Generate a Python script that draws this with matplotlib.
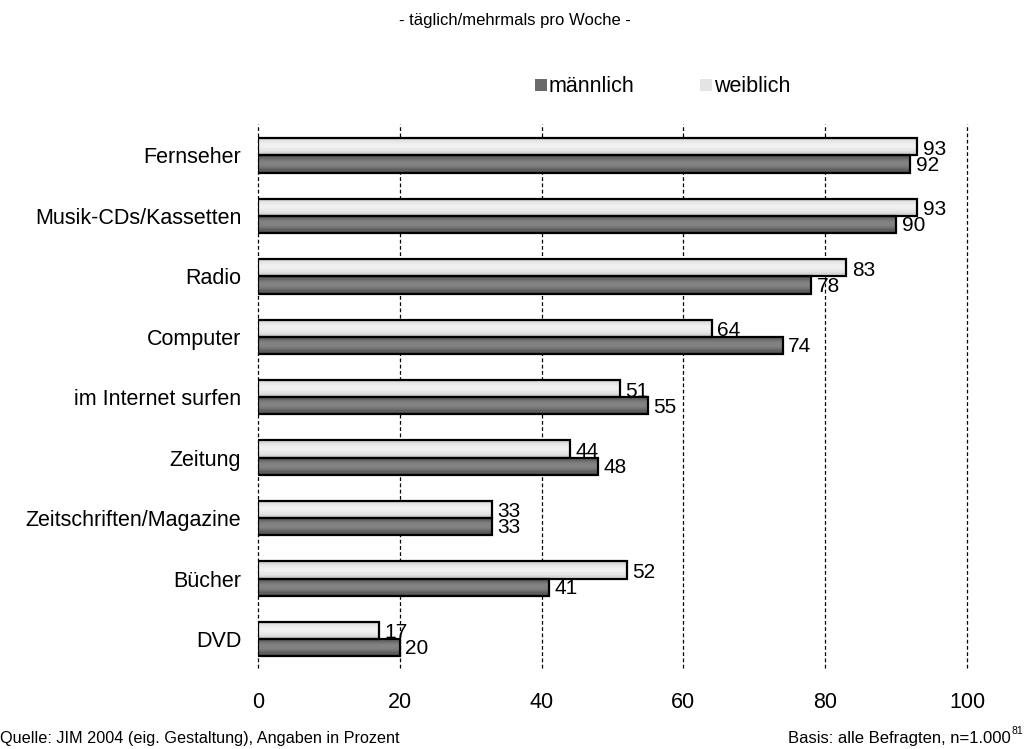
import numpy as np
import matplotlib
matplotlib.use("Agg")
import matplotlib.pyplot as plt
from matplotlib.patches import Rectangle

plt.rcParams['font.family'] = ['Liberation Sans', 'DejaVu Sans']

categories = ["Fernseher", "Musik-CDs/Kassetten", "Radio", "Computer",
              "im Internet surfen", "Zeitung", "Zeitschriften/Magazine",
              "Bücher", "DVD"]
maennlich = [92, 90, 78, 74, 55, 48, 33, 41, 20]
weiblich = [93, 93, 83, 64, 51, 44, 33, 52, 17]
xticks = [0, 20, 40, 60, 80, 100]

title = "- täglich/mehrmals pro Woche -"
source = "Quelle: JIM 2004 (eig. Gestaltung), Angaben in Prozent"
basis = "Basis: alle Befragten, n=1.000"

fig = plt.figure(figsize=(10.31, 7.49), dpi=100)
ax = fig.add_axes([258/1031, 1-668/749, 709/1031, (668-124)/749])

y = np.arange(len(categories))
h = 0.285

dark_prof = np.array([0.30, 0.34, 0.40, 0.45, 0.48, 0.50, 0.51, 0.51, 0.50, 0.48, 0.45, 0.41, 0.37, 0.33, 0.29])
light_prof = np.array([0.80, 0.84, 0.88, 0.91, 0.93, 0.94, 0.94, 0.93, 0.92, 0.90, 0.87, 0.84, 0.81])

def grad_bars(values, offset, prof):
    bars = ax.barh(y + offset, values, height=h, facecolor='none',
                   edgecolor='black', linewidth=1.6, zorder=4)
    for b in bars:
        x0, y0 = b.get_x(), b.get_y()
        w, hh = b.get_width(), b.get_height()
        img = prof.reshape(-1, 1)
        im = ax.imshow(img, cmap='gray', vmin=0, vmax=1, aspect='auto',
                       extent=(x0, x0 + w, y0 + hh, y0), origin='upper',
                       interpolation='nearest', zorder=3)
        im.set_clip_path(b)
    return bars

grad_bars(weiblich, -h/2, light_prof)
grad_bars(maennlich, h/2, dark_prof)

for i in range(len(categories)):
    ax.annotate(str(weiblich[i]), (weiblich[i], y[i] - h/2 + 0.04),
                xytext=(4, 0), textcoords='offset points', va='center',
                ha='left', fontsize=15, zorder=5)
    ax.annotate(str(maennlich[i]), (maennlich[i], y[i] + h/2 + 0.02),
                xytext=(4, 0), textcoords='offset points', va='center',
                ha='left', fontsize=15, zorder=5)

ax.set_xlim(0, 100)
ax.set_ylim(8.48, -0.52)
ax.set_yticks(y)
ax.set_yticklabels(categories, fontsize=15.5)
ax.set_xticks(xticks)
ax.set_xticklabels([str(t) for t in xticks], fontsize=15.5)
ax.tick_params(length=0)
ax.tick_params(axis='y', pad=12)
ax.tick_params(axis='x', pad=17)
for s in ax.spines.values():
    s.set_visible(False)
for t in xticks:
    ax.axvline(t, color='black', linestyle=(0, (3, 2)), linewidth=0.9,
               zorder=1, clip_on=False)

fig.text(515/1031, 1-20/749, title, ha='center', va='center', fontsize=12)

# legend
for (lx, label, col) in [(535, "männlich", "#6a6a6a"), (700, "weiblich", "#e4e4e4")]:
    fig.add_artist(Rectangle((lx/1031, 1-91/749), 12/1031, 12/749,
                             transform=fig.transFigure, facecolor=col,
                             edgecolor='none'))
    fig.text((lx + 14)/1031, 1-86/749, label, ha='left', va='center', fontsize=15.5)

fig.text(0, 1-738/749, source, ha='left', va='center', fontsize=11.7)
fig.text(1011/1031, 1-738/749, basis, ha='right', va='center', fontsize=12)
fig.text(1012/1031, 1-731/749, "81", ha='left', va='center', fontsize=7.5)

fig.savefig("out.png", dpi=100)
